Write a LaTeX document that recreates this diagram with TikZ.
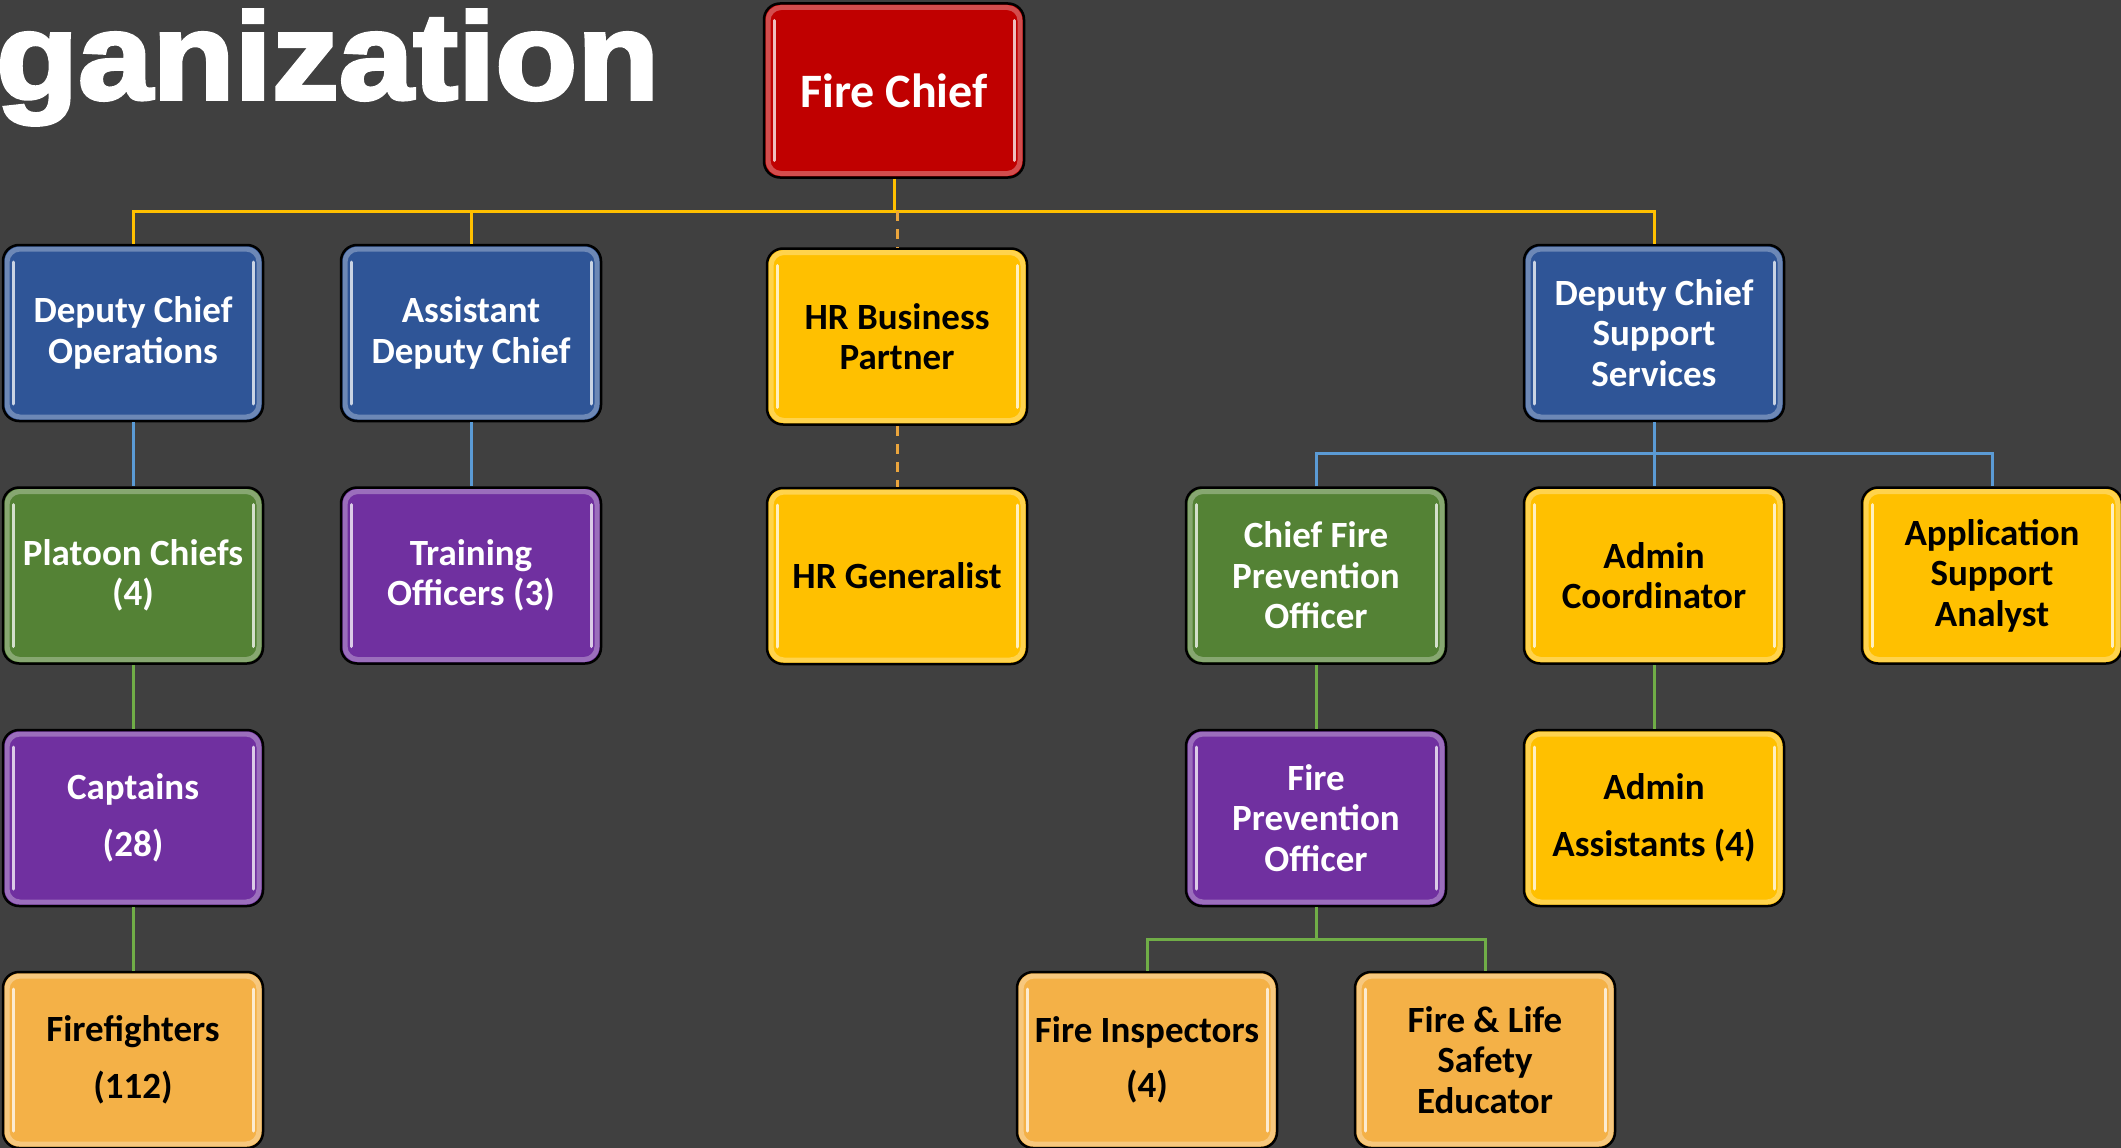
\documentclass[tikz,border=0pt]{standalone}
\usepackage{fontspec}
\setmainfont{Carlito}
\newfontfamily\titlefont{Liberation Sans Bold}[FakeBold=3,FakeStretch=1.09]
\definecolor{bgc}{HTML}{404040}
\definecolor{cred}{HTML}{C00000}
\definecolor{cblue}{HTML}{2F5597}
\definecolor{cgold}{HTML}{FFC000}
\definecolor{cgreen}{HTML}{548235}
\definecolor{cpurple}{HTML}{7030A0}
\definecolor{corange}{HTML}{F4B147}
\definecolor{lgold}{HTML}{FFC000}
\definecolor{lblue}{HTML}{5B9BD5}
\definecolor{lgreen}{HTML}{70AD47}
\definecolor{lhr}{HTML}{EBA53C}
\begin{document}
\begin{tikzpicture}[x=1pt,y=-1pt,
  orgbox/.style={draw=black, line width=2.5pt, rounded corners=16pt,
    minimum width=260pt, minimum height=176pt, align=center, inner sep=0pt,
    font=\bfseries\fontsize{37}{40.5}\selectfont,
    path picture={
      \path[draw=white, draw opacity=.3, line width=5pt, rounded corners=13pt]
        ([shift={(4pt,-4pt)}]path picture bounding box.north west) rectangle
        ([shift={(-4pt,4pt)}]path picture bounding box.south east);
      \draw[white, opacity=.75, line width=3pt, line cap=round, sharp corners]
        ([shift={(10pt,-17pt)}]path picture bounding box.north west) --
        ([shift={(10pt,17pt)}]path picture bounding box.south west);
      \draw[white, opacity=.75, line width=3pt, line cap=round, sharp corners]
        ([shift={(-10pt,-17pt)}]path picture bounding box.north east) --
        ([shift={(-10pt,17pt)}]path picture bounding box.south east);
    }},
  darkbox/.style={orgbox, fill=#1, text=white},
  lightbox/.style={orgbox, fill=#1, text=black},
  goldline/.style={draw=lgold, line width=3pt},
  blueline/.style={draw=lblue, line width=3pt},
  greenline/.style={draw=lgreen, line width=3pt},
  hrline/.style={draw=lhr, line width=3pt, dash pattern=on 10pt off 8pt}
]
\fill[bgc] (0,0) rectangle (2121,1148);
\useasboundingbox (0,0) rectangle (2121,1148);

\node[anchor=base west, inner sep=0pt, text=white,
  font=\titlefont\fontsize{123}{123}\selectfont] (title) at (-4,99) {ganization};

\coordinate (busY) at (0,211);
\coordinate (blueY) at (0,453);
\coordinate (greenY) at (0,939);

\node[darkbox=cred, minimum height=174pt, font=\bfseries\fontsize{48}{50}\selectfont] (fc) at (894,90.5) {Fire Chief};
\node[darkbox=cblue] (dco) at (133,333) {Deputy Chief\\Operations};
\node[darkbox=cblue] (adc) at (471,333) {Assistant\\Deputy Chief};
\node[lightbox=cgold] (hrbp) at (897,336.5) {HR Business\\Partner};
\node[darkbox=cblue] (dcss) at (1654,333) {Deputy Chief\\Support\\Services};
\node[darkbox=cgreen] (plc) at (133,575.5) {Platoon Chiefs\\(4)};
\node[darkbox=cpurple] (tro) at (471,575.5) {Training\\Officers (3)};
\node[lightbox=cgold] (hrg) at (897,576) {HR Generalist};
\node[darkbox=cgreen] (cfpo) at (1316,575.5) {Chief Fire\\Prevention\\Officer};
\node[lightbox=cgold] (adco) at (1654,575.5) {Admin\\Coordinator};
\node[lightbox=cgold] (asa) at (1992,575.5) {Application\\Support\\Analyst};
\node[darkbox=cpurple] (cap) at (133,818) {Captains\\[17pt](28)};
\node[darkbox=cpurple] (fpo) at (1316,818) {Fire\\Prevention\\Officer};
\node[lightbox=cgold] (aa) at (1654,818) {Admin\\[16pt]Assistants (4)};
\node[lightbox=corange] (ff) at (133,1060) {Firefighters\\[17pt](112)};
\node[lightbox=corange] (fi) at (1147,1060) {Fire Inspectors\\[15pt](4)};
\node[lightbox=corange] (flse) at (1485,1060) {Fire \& Life\\Safety\\Educator};

\draw[goldline] (fc.south) -- (fc.south |- busY);
\draw[goldline] (dco.north) -- (dco.north |- busY) -| (dcss.north);
\draw[goldline] (adc.north) -- (adc.north |- busY);
\draw[hrline] (hrbp.north |- busY) -- (hrbp.north);
\draw[hrline] (hrbp.south) -- (hrg.north);

\draw[blueline] (dco.south) -- (plc.north);
\draw[blueline] (adc.south) -- (tro.north);
\draw[blueline] (dcss.south) -- (adco.north);
\draw[blueline] (cfpo.north) -- (cfpo.north |- blueY) -| (asa.north);

\draw[greenline] (plc.south) -- (cap.north);
\draw[greenline] (cap.south) -- (ff.north);
\draw[greenline] (cfpo.south) -- (fpo.north);
\draw[greenline] (adco.south) -- (aa.north);
\draw[greenline] (fpo.south) -- (fpo.south |- greenY);
\draw[greenline] (fi.north) -- (fi.north |- greenY) -| (flse.north);
\end{tikzpicture}
\end{document}
